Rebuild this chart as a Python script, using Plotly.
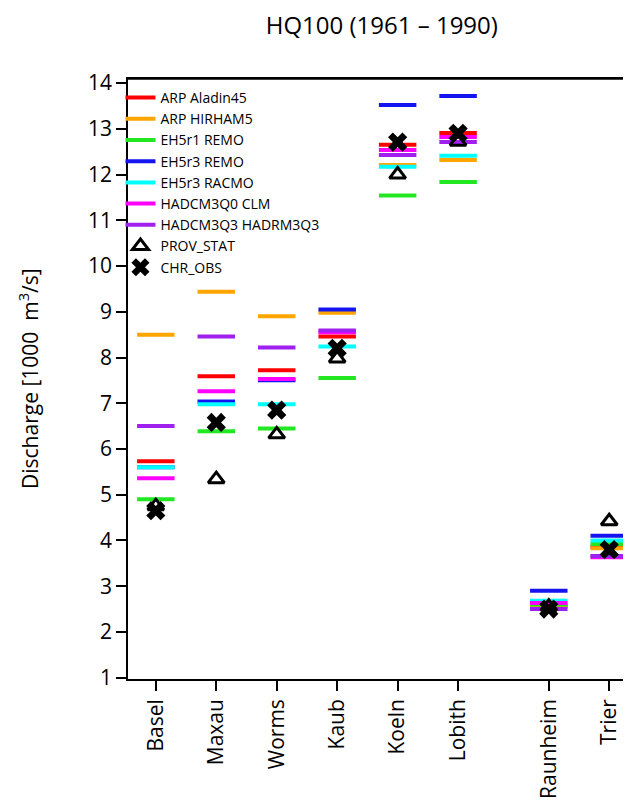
import plotly.graph_objects as go

stations = ["Basel", "Maxau", "Worms", "Kaub", "Koeln", "Lobith", "Raunheim", "Trier"]
# x positions (Rhine gauges, then a gap before the tributaries)
x_pos = [1, 2, 3, 4, 5, 6, 7.5, 8.5]

models = ["ARP Aladin45", "ARP HIRHAM5", "EH5r1 REMO", "EH5r3 REMO",
          "EH5r3 RACMO", "HADCM3Q0 CLM", "HADCM3Q3 HADRM3Q3"]
colors = ["#ff0000", "#ffa500", "#22e822", "#1414f0", "#00ffff", "#ff00ff", "#a020f0"]

arp_aladin45 = [5.73, 7.59, 7.72, 8.46, 12.65, 12.91, 2.57, 3.86]
arp_hirham5 = [8.50, 9.44, 8.90, 8.98, 12.21, 12.32, 2.55, 3.83]
eh5r1_remo = [4.90, 6.39, 6.45, 7.55, 11.54, 11.84, 2.60, 3.92]
eh5r3_remo = [5.60, 7.04, 7.50, 9.05, 13.52, 13.72, 2.90, 4.10]
eh5r3_racmo = [5.60, 6.98, 6.98, 8.24, 12.17, 12.41, 2.68, 4.00]
hadcm3q0_clm = [5.36, 7.26, 7.53, 8.55, 12.54, 12.82, 2.63, 3.63]
hadcm3q3_hadrm3q3 = [6.50, 8.46, 8.22, 8.59, 12.43, 12.71, 2.50, 3.66]

prov_stat = [4.75, 5.34, 6.32, 7.98, 12.00, 12.72, 2.55, 4.42]
chr_obs = [4.65, 6.58, 6.85, 8.20, 12.71, 12.90, 2.50, 3.80]

model_values = [arp_aladin45, arp_hirham5, eh5r1_remo, eh5r3_remo,
                eh5r3_racmo, hadcm3q0_clm, hadcm3q3_hadrm3q3]

half = 0.31
fig = go.Figure()

# one short horizontal segment per station for each model
for name, color, vals in zip(models, colors, model_values):
    xs, ys = [], []
    for p, v in zip(x_pos, vals):
        xs += [p - half, p + half, None]
        ys += [v, v, None]
    fig.add_trace(go.Scatter(x=xs, y=ys, mode="lines", name=name,
                             line=dict(color=color, width=4)))

fig.add_trace(go.Scatter(x=x_pos, y=prov_stat, mode="markers", name="PROV_STAT",
                         marker=dict(symbol="triangle-up-open", size=14, color="black",
                                     line=dict(color="black", width=3))))
fig.add_trace(go.Scatter(x=x_pos, y=chr_obs, mode="markers", name="CHR_OBS",
                         marker=dict(symbol="x", size=17, color="black",
                                     line=dict(width=0))))

font_family = "Open Sans, DejaVu Sans, sans-serif"

# page body has an 8px default margin, so the figure is 8px smaller than the window
fig.update_layout(
    width=623, height=804,
    margin=dict(l=120, r=0, t=71, b=133),
    paper_bgcolor="white", plot_bgcolor="white",
    font=dict(family=font_family, color="black", size=21),
    title=dict(text="HQ100 (1961 – 1990)", xref="container", x=0.600, xanchor="center",
               yref="container", y=0.978, yanchor="middle", font=dict(size=24)),
    showlegend=True,
    legend=dict(x=-0.015, y=0.995, xanchor="left", yanchor="top",
                bgcolor="rgba(0,0,0,0)", borderwidth=0,
                font=dict(size=14), itemwidth=30, tracegroupgap=0),
)

fig.update_xaxes(range=[0.54, 8.86], tickmode="array", tickvals=x_pos, ticktext=stations,
                 tickangle=-90, ticks="outside", ticklen=10, tickwidth=1.5, tickcolor="black",
                 showline=True, linecolor="black", linewidth=1.5, mirror=True,
                 showgrid=False, zeroline=False, tickfont=dict(size=21), automargin=False)
fig.update_yaxes(range=[0.97, 14.09], tickmode="array", tickvals=list(range(1, 15)),
                 ticks="outside", ticklen=10, tickwidth=1.5, tickcolor="black",
                 showline=True, linecolor="black", linewidth=1.5,
                 showgrid=False, zeroline=False, tickfont=dict(size=21), automargin=False)

# top frame line
fig.add_shape(type="line", xref="paper", yref="paper", x0=0, x1=1, y0=1, y1=1,
              line=dict(color="black", width=1.5))

fig.add_annotation(text="Discharge [1000  m<sup>3</sup>/s]", textangle=-90,
                   xref="paper", yref="paper", x=0, y=0.5, xshift=-100,
                   xanchor="center", yanchor="middle", showarrow=False,
                   font=dict(size=21))

fig.write_html("out.html")
